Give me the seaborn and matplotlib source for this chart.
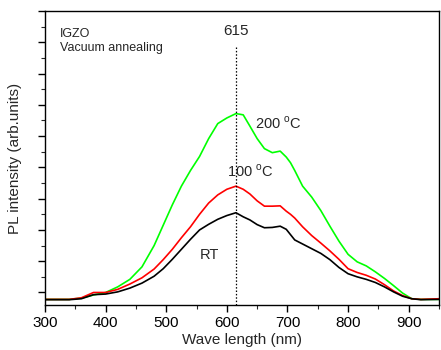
import matplotlib
matplotlib.use("Agg")
import matplotlib.pyplot as plt
import seaborn as sns
import pandas as pd
from matplotlib.ticker import MultipleLocator

wavelength = [300, 340, 360, 380, 400, 420, 440, 460, 480, 495, 510, 525, 540, 555, 570, 585,
              600, 615, 627, 638, 650, 662, 675, 688, 698, 705, 712, 725, 740, 755, 770, 785,
              800, 815, 830, 845, 860, 875, 890, 905, 920, 950]
t200 = [-0.22, -0.22, -0.18, -0.08, 0.0, 0.18, 0.42, 0.82, 1.5, 2.15, 2.8, 3.4, 3.9, 4.35, 4.92, 5.4,
        5.58, 5.72, 5.68, 5.32, 4.92, 4.6, 4.47, 4.52, 4.33, 4.15, 3.9, 3.4, 3.05, 2.62, 2.12, 1.64,
        1.22, 0.98, 0.85, 0.66, 0.45, 0.22, -0.02, -0.2, -0.22, -0.22]
t100 = [-0.22, -0.22, -0.17, 0.0, 0.0, 0.1, 0.27, 0.47, 0.75, 1.05, 1.38, 1.75, 2.1, 2.5, 2.86, 3.12,
        3.3, 3.4, 3.3, 3.15, 2.93, 2.76, 2.76, 2.77, 2.6, 2.5, 2.38, 2.1, 1.82, 1.58, 1.33, 1.06,
        0.76, 0.64, 0.55, 0.43, 0.25, 0.05, -0.1, -0.2, -0.22, -0.2]
rt = [-0.23, -0.23, -0.2, -0.07, -0.05, 0.02, 0.14, 0.3, 0.52, 0.76, 1.06, 1.38, 1.7, 2.0, 2.18, 2.34,
      2.46, 2.55, 2.42, 2.32, 2.17, 2.07, 2.08, 2.12, 2.02, 1.85, 1.68, 1.55, 1.4, 1.25, 1.05, 0.8,
      0.6, 0.5, 0.42, 0.32, 0.18, 0.02, -0.12, -0.2, -0.23, -0.22]
series_names = ["RT", "100 °C", "200 °C"]
series_colors = ["black", "#ff0000", "#00ff00"]

rows = []
for name, vals in zip(series_names, [rt, t100, t200]):
    for w, v in zip(wavelength, vals):
        rows.append({"wl": w, "I": v, "s": name})
df = pd.DataFrame(rows)

sns.set_style("ticks")
plt.rcParams["font.family"] = ["Liberation Sans", "DejaVu Sans"]

fig = plt.figure(figsize=(4.41, 3.5), dpi=100)
ax = fig.add_axes([45 / 441, 45 / 350, 394 / 441, 294 / 350])
sns.lineplot(data=df, x="wl", y="I", hue="s", palette=dict(zip(series_names, series_colors)),
             hue_order=["200 °C", "100 °C", "RT"], linewidth=1.2, legend=False, ax=ax)

ax.set_xlim(300, 950)
ax.set_ylim(-0.4, 9.0)
ax.xaxis.set_major_locator(MultipleLocator(100))
ax.xaxis.set_minor_locator(MultipleLocator(50))
ax.yaxis.set_major_locator(MultipleLocator(1))
ax.yaxis.set_minor_locator(MultipleLocator(0.5))
ax.set_yticklabels([])
ax.tick_params(axis="both", which="major", direction="out", length=5, width=1, labelsize=11, colors="black")
ax.tick_params(axis="both", which="minor", direction="out", length=3, width=0.8)
ax.tick_params(axis="x", pad=3)
for sp in ax.spines.values():
    sp.set_linewidth(1.0)
    sp.set_color("black")

ax.set_xlabel("Wave length (nm)", fontsize=11, labelpad=2)
ax.set_ylabel("PL intensity (arb.units)", fontsize=11, labelpad=8)

ax.vlines(615, -0.4, 7.84, colors="black", linestyles=(0, (1.2, 1.5)), linewidth=0.9)
ax.text(615, 8.15, "615", ha="center", va="bottom", fontsize=11)
ax.text(325, 8.05, "IGZO\nVacuum annealing", ha="left", va="center", fontsize=9, linespacing=1.25)
ax.text(646, 5.4, "200 $^\\mathregular{o}$C", ha="left", va="center", fontsize=10.5)
ax.text(638, 3.87, "100 $^\\mathregular{o}$C", ha="center", va="center", fontsize=10.5)
ax.text(572, 1.2, "RT", ha="center", va="center", fontsize=10.5)

fig.savefig("out.png", dpi=100)
